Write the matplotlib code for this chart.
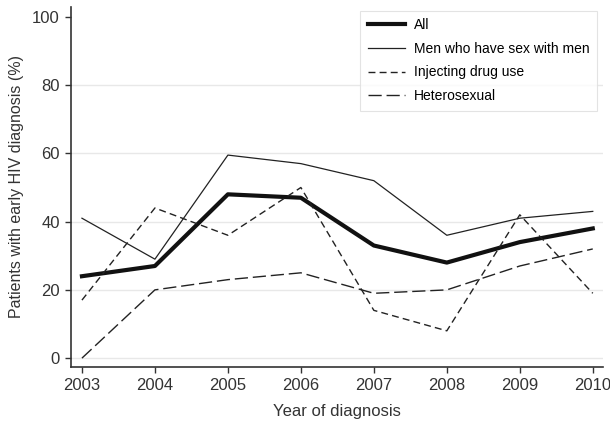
import matplotlib
matplotlib.use("Agg")
import matplotlib.pyplot as plt

years = [2003, 2004, 2005, 2006, 2007, 2008, 2009, 2010]
all_pts = [24, 27, 48, 47, 33, 28, 34, 38]
msm = [41, 29, 59.5, 57, 52, 36, 41, 43]
idu = [17, 44, 36, 50, 14, 8, 42, 19]
het = [0, 20, 23, 25, 19, 20, 27, 32]

plt.rcParams['font.family'] = ['Liberation Sans', 'DejaVu Sans']

fig = plt.figure(figsize=(6.1, 4.26), dpi=100)
ax = fig.add_axes([0.1164, 0.1385, 0.8721, 0.8451])

for y in [0, 20, 40, 60, 80]:
    ax.axhline(y, color='#e8e8e8', lw=1.0, zorder=0)

ax.plot(years, all_pts, color='#111111', lw=3.0, label='All')
ax.plot(years, msm, color='#222222', lw=0.9, label='Men who have sex with men')
ax.plot(years, idu, color='#222222', lw=1.0, dashes=(5, 3), label='Injecting drug use')
ax.plot(years, het, color='#222222', lw=1.0, dashes=(9.5, 3.5), label='Heterosexual')

ax.set_xlim(2002.85, 2010.14)
ax.set_ylim(-2.6, 102.9)
ax.set_xticks(years)
ax.set_yticks([0, 20, 40, 60, 80, 100])
ax.tick_params(labelsize=12, length=4, width=1, color='#333333', labelcolor='#333333', pad=4)
for s in ['top', 'right']:
    ax.spines[s].set_visible(False)
for s in ['left', 'bottom']:
    ax.spines[s].set_linewidth(1.2)
    ax.spines[s].set_color('#333333')

ax.set_xlabel('Year of diagnosis', fontsize=12, color='#333333', labelpad=8)
ax.set_ylabel('Patients with early HIV diagnosis (%)', fontsize=11.5, color='#333333', labelpad=6)

leg = ax.legend(loc='upper left', bbox_to_anchor=(0.5433, 0.990), fontsize=10,
                frameon=True, fancybox=False, edgecolor='#dddddd',
                handlelength=2.66, handletextpad=0.65, borderpad=0.55, labelspacing=0.69,
                borderaxespad=0)
leg.get_frame().set_linewidth(0.8)

fig.savefig('out.png', dpi=100)
